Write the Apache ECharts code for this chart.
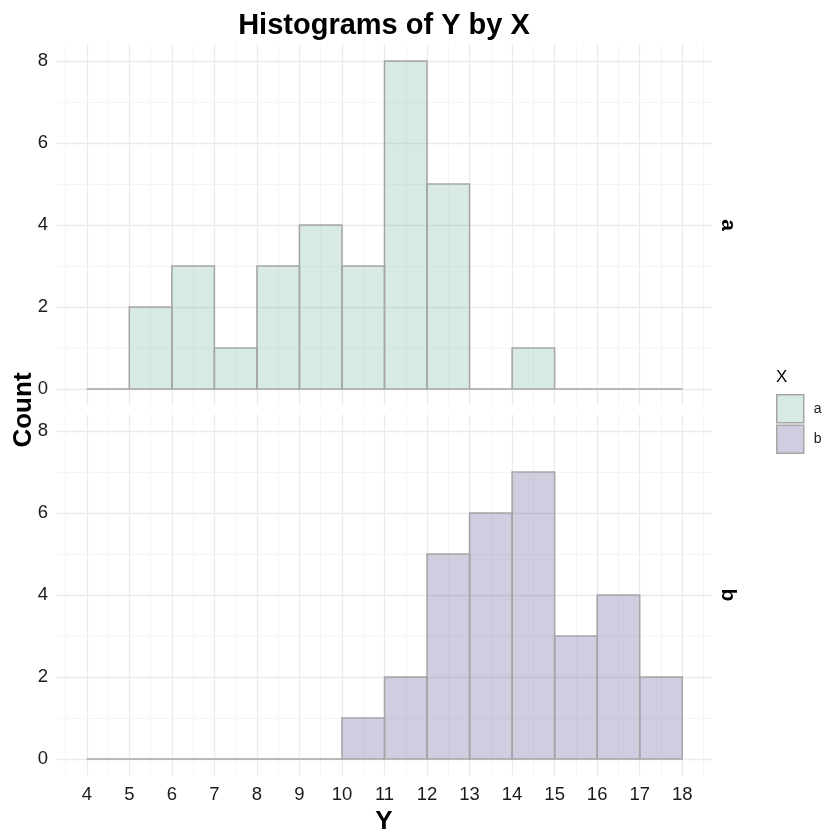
<!DOCTYPE html>
<html><head><meta charset="utf-8">
<script src="https://cdn.jsdelivr.net/npm/echarts@6/dist/echarts.min.js"></script>
<style>html,body{margin:0;padding:0;background:#fff}#c{width:840px;height:840px}</style>
</head><body><div id="c"></div>
<script>
// Bin edges (width 1) and counts per facet
const binStarts = [4,5,6,7,8,9,10,11,12,13,14,15,16,17];
const countsA = [0,2,3,1,3,4,3,8,5,0,1,0,0,0];
const countsB = [0,0,0,0,0,0,1,2,5,6,7,3,4,2];
const xTicks = [4,5,6,7,8,9,10,11,12,13,14,15,16,17,18];
const yTicks = [0,2,4,6,8];
const yMinor = [1,3,5,7];
const xMinor = [3.5,4.5,5.5,6.5,7.5,8.5,9.5,10.5,11.5,12.5,13.5,14.5,15.5,16.5,17.5,18.5];
const groups = ['a','b'];

const FONT = 'Liberation Sans';
const fillA = 'rgba(125,185,168,0.3)';
const fillB = 'rgba(95,92,152,0.3)';
const border = '#a6a6a6';

function binData(counts){ return binStarts.map((s,i)=>[s, s+1, counts[i]]); }

function renderBar(params, api){
  const x0 = api.value(0), x1 = api.value(1), y = api.value(2);
  const p0 = api.coord([x0, y]);
  const p1 = api.coord([x1, 0]);
  return {
    type: 'rect',
    shape: {x: p0[0], y: p0[1], width: p1[0]-p0[0], height: p1[1]-p0[1]},
    style: {fill: api.visual('color'), stroke: border, lineWidth: 1.5}
  };
}

function gridLines(){
  const d = [];
  const minor = {color:'#f2f2f2', width:0.8, type:'solid'};
  const major = {color:'#ebebeb', width:1.3, type:'solid'};
  xMinor.forEach(v=>d.push({xAxis:v, lineStyle:minor}));
  yMinor.forEach(v=>d.push({yAxis:v, lineStyle:minor}));
  xTicks.forEach(v=>d.push({xAxis:v, lineStyle:major}));
  yTicks.forEach(v=>d.push({yAxis:v, lineStyle:major}));
  return d;
}

const grids = [
  {left:57, right:128, top:44.6, height:360.8},
  {left:57, right:128, top:414.6, height:360.8}
];
const xAxes = [0,1].map(i=>({
  type:'value', gridIndex:i, min:3.3, max:18.7,
  axisLine:{show:false}, axisTick:{show:false}, splitLine:{show:false},
  axisLabel:{show:i===1, customValues:xTicks, color:'#1a1a1a', fontSize:18.5, fontFamily:FONT, margin:10}
}));
const yAxes = [0,1].map(i=>({
  type:'value', gridIndex:i, min:-0.4, max:8.4,
  axisLine:{show:false}, axisTick:{show:false}, splitLine:{show:false},
  axisLabel:{customValues:yTicks, color:'#1a1a1a', fontSize:18.5, fontFamily:FONT, margin:9}
}));

const series = [];
[0,1].forEach(i=>{
  series.push({
    type:'line', xAxisIndex:i, yAxisIndex:i, data:[], silent:true, z:0,
    markLine:{silent:true, symbol:'none', label:{show:false}, z:0, animation:false, data:gridLines()}
  });
});
series.push({name:'a', type:'custom', xAxisIndex:0, yAxisIndex:0, data:binData(countsA),
  renderItem:renderBar, itemStyle:{color:fillA, borderColor:border, borderWidth:1.5}, z:3, encode:{x:[0,1], y:2}});
series.push({name:'b', type:'custom', xAxisIndex:1, yAxisIndex:1, data:binData(countsB),
  renderItem:renderBar, itemStyle:{color:fillB, borderColor:border, borderWidth:1.5}, z:3, encode:{x:[0,1], y:2}});

const chart = echarts.init(document.getElementById('c'), null, {renderer:'canvas'});
chart.setOption({
  animation:false,
  backgroundColor:'#fff',
  grid:grids, xAxis:xAxes, yAxis:yAxes, series:series,
  legend:{data:groups, orient:'vertical', left:776, top:394, padding:0, itemWidth:27, itemHeight:28, itemGap:1,
    icon:'rect', textStyle:{fontSize:14, color:'#1a1a1a', fontFamily:FONT, padding:[0,0,0,5]},
    itemStyle:{borderColor:border, borderWidth:1.5}, selectedMode:false},
  graphic:[
    {type:'text', x:384, y:26, style:{text:'Histograms of Y by X', fontSize:29, fontWeight:'bold', fill:'#000', fontFamily:FONT, align:'center', verticalAlign:'middle'}},
    {type:'text', x:776, y:377, style:{text:'X', fontSize:17, fill:'#000', fontFamily:FONT, align:'left', verticalAlign:'middle'}},
    {type:'text', x:728, y:225, rotation:-Math.PI/2, style:{text:'a', fontSize:21, fontWeight:'bold', fill:'#000', fontFamily:FONT, align:'center', verticalAlign:'middle'}},
    {type:'text', x:728, y:595, rotation:-Math.PI/2, style:{text:'b', fontSize:21, fontWeight:'bold', fill:'#000', fontFamily:FONT, align:'center', verticalAlign:'middle'}},
    {type:'text', x:24, y:410, rotation:Math.PI/2, style:{text:'Count', fontSize:26, fontWeight:'bold', fill:'#000', fontFamily:FONT, align:'center', verticalAlign:'middle'}},
    {type:'text', x:384, y:822, style:{text:'Y', fontSize:26, fontWeight:'bold', fill:'#000', fontFamily:FONT, align:'center', verticalAlign:'middle'}}
  ]
});
</script></body></html>
